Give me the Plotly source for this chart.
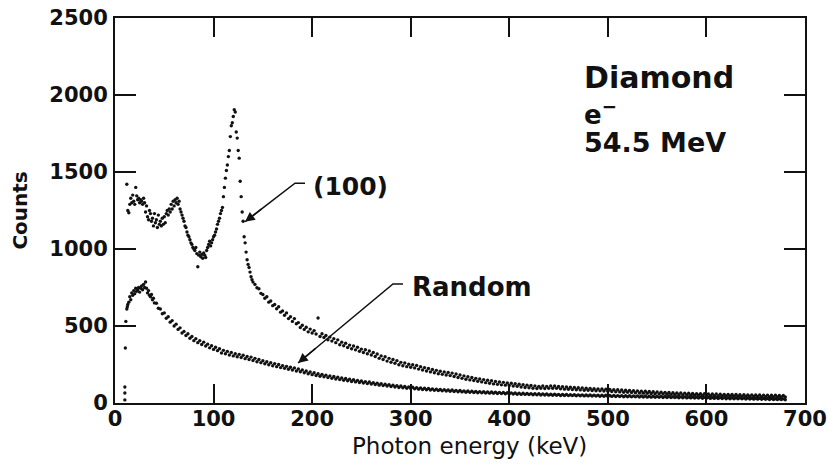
import plotly.graph_objects as go

# ---------------- data ----------------
# (100) channelled spectrum
x100_head = list(range(12, 141))
y100_head = [1420, 1250, 1235, 1290, 1330, 1300, 1350, 1310, 1290, 1400,
             1345, 1320, 1330, 1300, 1320, 1310, 1290, 1330, 1300, 1240,
             1280, 1210, 1190, 1250, 1230, 1180, 1200, 1150, 1230, 1170,
             1190, 1140, 1220, 1160, 1180, 1150, 1200, 1160, 1210, 1170,
             1230, 1250, 1220, 1260, 1240, 1290, 1260, 1310, 1280, 1320,
             1300, 1330, 1290, 1310, 1260, 1240, 1220, 1200, 1180, 1150,
             1140, 1110, 1090, 1080, 1060, 1040, 1030, 1010, 1000, 990,
             1010, 970, 885, 960, 980, 950, 965, 940, 975, 960,
             945, 990, 1010, 1030, 1050, 1020, 1040, 1060, 1080, 1090,
             1110, 1130, 1160, 1180, 1200, 1230, 1250, 1270, 1340, 1400,
             1460, 1510, 1545, 1600, 1640, 1730, 1800, 1820, 1860, 1905,
             1890, 1760, 1720, 1640, 1590, 1440, 1340, 1240, 1180, 1080,
             1040, 980, 930, 900, 880, 850, 820, 800, 785]
x100_tail = list(range(142, 681, 2))
y100_tail = [770, 748, 742, 712, 705, 680, 690, 655, 662, 632,
             640, 612, 625, 590, 598, 570, 585, 548, 560, 530,
             548, 515, 522, 490, 505, 478, 492, 462, 480, 455,
             470, 448, 552, 432, 450, 425, 438, 410, 428, 402,
             418, 392, 410, 378, 395, 372, 388, 360, 376, 352,
             370, 345, 362, 336, 350, 328, 346, 320, 338, 312,
             328, 302, 318, 290, 306, 282, 300, 272, 290, 265,
             282, 258, 275, 248, 264, 242, 260, 236, 252, 232,
             248, 228, 244, 220, 236, 214, 230, 208, 224, 202,
             218, 196, 212, 190, 206, 186, 202, 182, 198, 178,
             194, 172, 188, 166, 182, 160, 176, 154, 170, 150,
             166, 146, 160, 141, 156, 137, 152, 132, 148, 128,
             144, 124, 140, 121, 136, 118, 134, 116, 130, 113,
             128, 110, 125, 108, 122, 104, 119, 101, 116, 99,
             114, 96, 111, 94, 108, 96, 110, 94, 108, 95,
             111, 96, 110, 95, 107, 92, 106, 90, 104, 89,
             102, 87, 101, 86, 99, 85, 98, 83, 96, 82,
             95, 81, 93, 80, 92, 79, 91, 78, 90, 77,
             88, 75, 87, 73, 86, 72, 84, 70, 83, 70,
             82, 68, 80, 67, 79, 65, 77, 64, 76, 63,
             75, 62, 73, 60, 72, 59, 70, 58, 69, 57,
             68, 56, 67, 55, 66, 54, 65, 53, 64, 52,
             63, 51, 62, 51, 61, 50, 60, 49, 60, 48,
             59, 48, 58, 47, 58, 46, 57, 46, 56, 45,
             56, 45, 55, 44, 55, 44, 54, 43, 54, 43,
             53, 42, 53, 42, 52, 42, 52, 41, 51, 41,
             51, 40, 50, 40, 50, 40, 49, 39, 49, 39]

# Random (non-aligned) spectrum
xr_head = [10, 10, 10, 10.5, 11, 12, 12.5, 13, 14, 15, 16, 17, 18, 19, 20,
           21, 22, 23, 24, 25, 26, 27, 28, 29, 30, 31, 32, 33, 34, 35,
           36, 37, 38, 39, 40]
yr_head = [20, 65, 104, 357, 530, 610, 625, 640, 655, 690, 670, 715, 700, 730, 710,
           745, 725, 735, 750, 720, 745, 760, 735, 770, 750, 786, 745, 715, 730, 700,
           690, 705, 670, 680, 650]
xr_tail = list(range(42, 681, 2))
yr_tail = [648, 615, 610, 580, 585, 550, 560, 525, 535, 500,
           512, 478, 488, 455, 465, 438, 450, 420, 432, 405,
           418, 392, 405, 380, 395, 370, 382, 358, 372, 348,
           362, 340, 352, 325, 342, 320, 335, 312, 328, 306,
           320, 300, 316, 295, 310, 288, 302, 282, 298, 276,
           290, 268, 282, 262, 275, 255, 268, 248, 262, 242,
           256, 236, 250, 230, 243, 225, 238, 219, 232, 214,
           228, 208, 221, 203, 215, 196, 208, 190, 201, 184,
           196, 179, 190, 174, 186, 170, 181, 165, 176, 160,
           172, 156, 167, 152, 163, 148, 159, 144, 155, 140,
           151, 137, 147, 133, 143, 130, 139, 126, 136, 123,
           132, 120, 129, 116, 126, 113, 122, 110, 119, 107,
           116, 104, 113, 101, 110, 99, 107, 96, 105, 94,
           102, 92, 100, 90, 98, 88, 96, 86, 94, 84,
           92, 82, 90, 81, 88, 79, 87, 78, 85, 76,
           84, 75, 82, 73, 81, 72, 79, 70, 78, 69,
           77, 68, 75, 67, 74, 66, 73, 65, 72, 64,
           71, 63, 70, 62, 69, 61, 68, 60, 67, 59,
           66, 58, 65, 57, 64, 56, 63, 56, 62, 55,
           61, 54, 60, 53, 60, 52, 59, 52, 58, 51,
           57, 50, 57, 50, 56, 49, 55, 49, 55, 48,
           54, 48, 54, 47, 53, 47, 53, 46, 52, 46,
           52, 45, 51, 45, 51, 44, 50, 44, 50, 43,
           49, 43, 49, 42, 48, 42, 48, 41, 47, 41,
           47, 40, 46, 40, 46, 39, 45, 39, 45, 38,
           44, 38, 44, 37, 43, 37, 43, 36, 42, 36,
           42, 35, 41, 35, 41, 34, 40, 34, 40, 33,
           39, 33, 39, 32, 38, 32, 38, 31, 37, 31,
           37, 30, 36, 30, 36, 29, 35, 29, 35, 28,
           34, 28, 34, 27, 33, 27, 33, 27, 32, 26,
           32, 26, 31, 25, 31, 25, 30, 24, 30, 24,
           29, 23, 29, 23, 28, 22, 28, 22, 27, 21]

x_ticks = [0, 100, 200, 300, 400, 500, 600, 700]
y_ticks = [0, 500, 1000, 1500, 2000, 2500]

INK = "#111111"
FONT = "DejaVu Sans"

fig = go.Figure()
fig.add_trace(go.Scatter(x=x100_head + x100_tail, y=y100_head + y100_tail,
                         mode="markers", name="(100)",
                         marker=dict(size=3.4, color=INK)))
fig.add_trace(go.Scatter(x=xr_head + xr_tail, y=yr_head + yr_tail,
                         mode="markers", name="Random",
                         marker=dict(size=3.4, color=INK)))

axis_common = dict(showline=True, linewidth=2, linecolor=INK, mirror="allticks",
                   ticks="inside", tickwidth=2, tickcolor=INK, showgrid=False,
                   zeroline=False, automargin=False,
                   tickfont=dict(family=FONT, size=21, color=INK, weight="bold"))
fig.update_xaxes(range=[0, 700], tickvals=x_ticks, ticklen=19,
                 ticklabelstandoff=-4, **axis_common)
fig.update_yaxes(range=[0, 2500], tickvals=y_ticks, ticklen=21,
                 ticklabelstandoff=1, **axis_common)

# axis titles
fig.add_annotation(xref="paper", yref="paper", x=-0.139, y=0.5, text="Counts",
                   textangle=-90, showarrow=False, xanchor="center",
                   yanchor="middle",
                   font=dict(family=FONT, size=20, color=INK, weight=600))
fig.add_annotation(xref="paper", yref="paper", x=0.514, y=-0.112,
                   text="Photon energy (keV)", showarrow=False,
                   xanchor="center", yanchor="middle",
                   font=dict(family=FONT, size=23, color=INK))

# labels
bold = lambda s: dict(family=FONT, size=s, color=INK, weight="bold")
fig.add_annotation(x=474, y=2114, text="Diamond", showarrow=False,
                   xanchor="left", yanchor="middle", font=bold(30))
fig.add_annotation(x=474, y=1880, text="e<sup>\u2212</sup>", showarrow=False,
                   xanchor="left", yanchor="middle", font=bold(26))
fig.add_annotation(x=474, y=1692, text="54.5 MeV", showarrow=False,
                   xanchor="left", yanchor="middle", font=bold(27))
fig.add_annotation(x=199, y=1409, text="(100)", showarrow=False,
                   xanchor="left", yanchor="middle", font=bold(25))
fig.add_annotation(x=299, y=756, text="Random", showarrow=False,
                   xanchor="left", yanchor="middle", font=bold(26))

# pointer lines (horizontal stub + diagonal) and arrowheads
fig.add_shape(type="path", path="M 192.8 1427 L 182.6 1427 L 131.9 1177",
              line=dict(color=INK, width=1.5))
fig.add_annotation(x=131.9, y=1177, ax=150.0, ay=1266, axref="x", ayref="y",
                   text="", showarrow=True, arrowhead=2, arrowsize=1.3,
                   arrowwidth=1.5, arrowcolor=INK, standoff=0)
fig.add_shape(type="path", path="M 292.2 773 L 282.0 773 L 185.7 260",
              line=dict(color=INK, width=1.5))
fig.add_annotation(x=185.7, y=260, ax=205.0, ay=363, axref="x", ayref="y",
                   text="", showarrow=True, arrowhead=2, arrowsize=1.3,
                   arrowwidth=1.5, arrowcolor=INK, standoff=0)

fig.update_layout(width=829, height=469, showlegend=False,
                  margin=dict(l=115, r=24, t=18, b=66),
                  plot_bgcolor="white", paper_bgcolor="white")

fig.write_html("out.html")
